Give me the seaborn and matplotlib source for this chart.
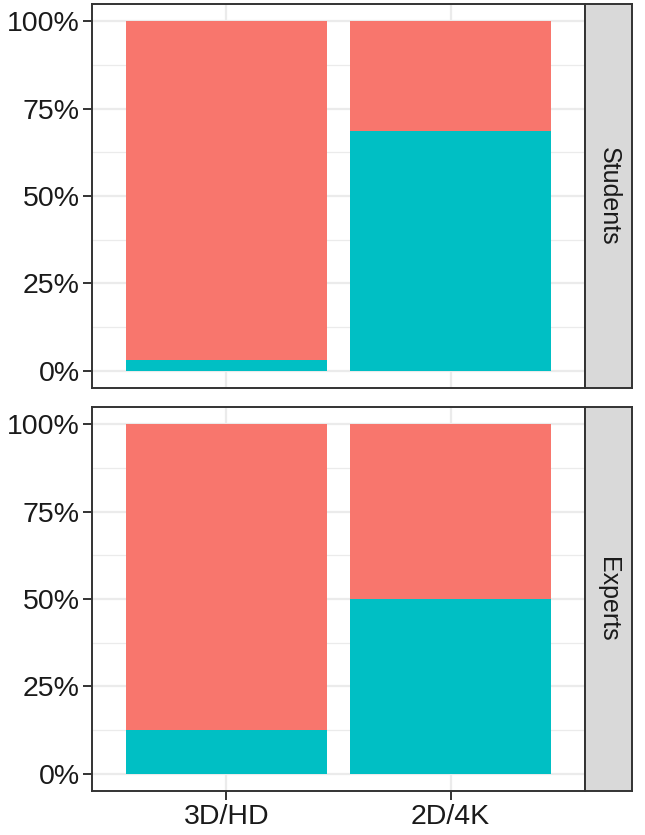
import seaborn as sns
import matplotlib.pyplot as plt
import pandas as pd
from matplotlib.ticker import FixedLocator

# data (share of the teal group, rest is the red group)
groups = ["Students", "Experts"]
formats = ["3D/HD", "2D/4K"]
teal_share = {"Students": [0.03, 0.6875], "Experts": [0.125, 0.50]}

red = "#F8766D"
teal = "#00BFC4"

sns.set_style("white")
plt.rcParams['font.family'] = ['Liberation Sans', 'DejaVu Sans']

fig = plt.figure(figsize=(6.45, 8.35), dpi=100)
W, H = 645, 835
panels = [(4, 388), (407, 791)]
left, right, strip_r = 92, 585, 632

for g, (top, bot) in zip(groups, panels):
    ax = fig.add_axes([left / W, 1 - bot / H, (right - left) / W, (bot - top) / H])
    df = pd.DataFrame({"format": formats, "teal": teal_share[g], "total": [1.0, 1.0]})
    sns.barplot(data=df, x="format", y="total", color=red, width=0.9,
                saturation=1, linewidth=0, ax=ax, zorder=2)
    sns.barplot(data=df, x="format", y="teal", color=teal, width=0.9,
                saturation=1, linewidth=0, ax=ax, zorder=3)
    ax.set_xlim(-0.6, 1.6)
    ax.set_ylim(-0.05, 1.05)
    ax.yaxis.set_major_locator(FixedLocator([0, 0.25, 0.5, 0.75, 1.0]))
    ax.yaxis.set_minor_locator(FixedLocator([0.125, 0.375, 0.625, 0.875]))
    ax.set_yticklabels(["0%", "25%", "50%", "75%", "100%"])
    ax.grid(True, which="major", color="#EBEBEB", lw=1.6, zorder=0)
    ax.grid(True, which="minor", axis="y", color="#EBEBEB", lw=0.9, zorder=0)
    ax.set_axisbelow(True)
    ax.set_xlabel("")
    ax.set_ylabel("")
    for s in ax.spines.values():
        s.set_color("#333333")
        s.set_linewidth(1.4)
    ax.tick_params(axis="both", which="major", length=6.5, width=1.4, color="#333333",
                   labelsize=20.5, labelcolor="#1A1A1A", pad=2.5, left=True, bottom=True)
    ax.tick_params(axis="y", which="minor", length=0)
    if g != groups[-1]:
        ax.tick_params(axis="x", labelbottom=False, length=0)

    sax = fig.add_axes([right / W, 1 - bot / H, (strip_r - right) / W, (bot - top) / H])
    sax.set_facecolor("#D9D9D9")
    sax.set_xticks([])
    sax.set_yticks([])
    for s in sax.spines.values():
        s.set_color("#333333")
        s.set_linewidth(1.4)
    sax.text(0.5, 0.5, g, rotation=-90, ha="center", va="center",
             fontsize=18, color="#1A1A1A", transform=sax.transAxes)

fig.savefig("out.png", dpi=100)
